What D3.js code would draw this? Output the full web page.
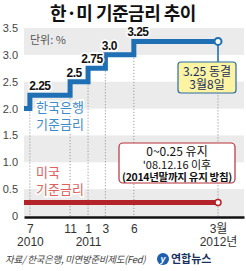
<!DOCTYPE html>
<html>
<head>
<meta charset="utf-8">
<script src="https://cdn.jsdelivr.net/npm/d3@7"></script>
<style>
    body { margin: 0; background: #fff; }
    svg { display: block; font-family: "Noto Sans CJK KR", "Noto Sans", sans-serif; }
</style>
</head>
<body>
<script>
// Data
const krDates = ['2010-06-20', '2010-07-09', '2010-11-16', '2011-01-13', '2011-03-10', '2011-06-10', '2012-03-08'];
const krRates = [2.0, 2.25, 2.5, 2.75, 3.0, 3.25, 3.25];
const krLabels = ['', '2.25', '2.5', '2.75', '3.0', '3.25', ''];

const usDates = ['2010-06-20', '2012-03-08'];
const usRates = [0.25, 0.25];

const yTicks = [0, 0.5, 1.0, 1.5, 2.0, 2.5, 3.0, 3.5];
const xTickDates = ['2010-07-09', '2010-11-16', '2011-01-13', '2011-03-10', '2011-06-10', '2012-03-08'];
const xMonthLabels = ['7', '11', '1', '3', '6', '3월'];
const xYearLabels = ['2010', '', '2011', '', '', '2012년'];

const parse = d3.timeParse('%Y-%m-%d');

const width = 246, height = 271;
const marginLeft = 24, marginRight = 2;

const svg = d3.select('body').append('svg')
    .attr('width', width)
    .attr('height', height);

const x = d3.scaleTime()
    .domain([parse('2010-06-20'), parse('2012-05-31')])
    .range([marginLeft, width - marginRight]);

const y = d3.scaleLinear()
    .domain([0, 3.5])
    .range([216, 28]);

// title
svg.append('text')
    .attr('x', width / 2).attr('y', 20)
    .attr('text-anchor', 'middle')
    .attr('font-size', 18).attr('font-weight', 'bold')
    .attr('letter-spacing', -0.5)
    .attr('fill', '#111')
    .text('한·미 기준금리 추이');

// gray bands
const bands = yTicks.slice(0, -1).filter((d, i) => i % 2 === 0);
svg.append('g')
    .selectAll('rect')
    .data(bands)
    .join('rect')
        .attr('x', marginLeft)
        .attr('width', width - marginRight - marginLeft)
        .attr('y', d => y(d + 0.5))
        .attr('height', d => y(d) - y(d + 0.5))
        .attr('fill', '#ebebeb');

// y labels
svg.append('g')
    .selectAll('text')
    .data(yTicks)
    .join('text')
        .attr('x', 18)
        .attr('y', d => y(d) + 4)
        .attr('text-anchor', 'end')
        .attr('font-size', 11)
        .attr('fill', '#444')
        .attr('font-family', 'Liberation Sans, sans-serif')
        .text(d => d === 0 ? '0' : d3.format('.1f')(d));

svg.append('text')
    .attr('x', 30).attr('y', 44)
    .attr('font-size', 11).attr('fill', '#555')
    .text('단위: %');

// dotted verticals
svg.append('g')
    .selectAll('line')
    .data(xTickDates)
    .join('line')
        .attr('x1', d => x(parse(d)))
        .attr('x2', d => x(parse(d)))
        .attr('y1', (d, i) => y(krRates[i]) + 3)
        .attr('y2', y(0))
        .attr('stroke', '#888')
        .attr('stroke-width', 1)
        .attr('stroke-dasharray', '1,2');

// series labels
const labelStyle = sel => sel
    .attr('font-size', 13)
    .attr('stroke', '#fff').attr('stroke-width', 3)
    .attr('paint-order', 'stroke');

svg.append('text').attr('x', 36).attr('y', 112).attr('fill', '#3d8cc9').call(labelStyle).text('한국은행');
svg.append('text').attr('x', 36).attr('y', 129).attr('fill', '#3d8cc9').call(labelStyle).text('기준금리');
svg.append('text').attr('x', 36).attr('y', 177).attr('fill', '#e06060').call(labelStyle).text('미국');
svg.append('text').attr('x', 36).attr('y', 194).attr('fill', '#e06060').call(labelStyle).text('기준금리');

// x axis
const xAxis = d3.axisBottom(x)
    .tickValues(xTickDates.map(parse))
    .tickSize(0)
    .tickPadding(7)
    .tickFormat((d, i) => xMonthLabels[i]);

const gx = svg.append('g')
    .attr('transform', `translate(0, ${y(0) + 1})`)
    .call(xAxis);
gx.select('.domain').attr('stroke', '#111').attr('stroke-width', 2.5);
gx.selectAll('text').attr('font-size', 12).attr('fill', '#333')
    .attr('font-family', 'Liberation Sans, "Noto Sans CJK KR", sans-serif');

const yearAxis = d3.axisBottom(x)
    .tickValues(xTickDates.map(parse))
    .tickSize(0)
    .tickPadding(20)
    .tickFormat((d, i) => xYearLabels[i]);

const gy = svg.append('g')
    .attr('transform', `translate(0, ${y(0) + 1})`)
    .call(yearAxis);
gy.select('.domain').remove();
gy.selectAll('text').attr('font-size', 12).attr('fill', '#333')
    .attr('font-family', 'Liberation Sans, "Noto Sans CJK KR", sans-serif');

// lines
const line = d3.line()
    .x(d => x(d.date))
    .y(d => y(d.rate))
    .curve(d3.curveStepAfter);

const kr = krDates.map((d, i) => ({ date: parse(d), rate: krRates[i], label: krLabels[i] }));
const us = usDates.map((d, i) => ({ date: parse(d), rate: usRates[i] }));

svg.append('path')
    .datum(us)
    .attr('d', line)
    .attr('fill', 'none')
    .attr('stroke', '#b5232a')
    .attr('stroke-width', 5);

svg.append('path')
    .datum(kr)
    .attr('d', line)
    .attr('fill', 'none')
    .attr('stroke', '#1e6fb3')
    .attr('stroke-width', 5);

// value labels
svg.append('g')
    .selectAll('text')
    .data(kr.filter(d => d.label))
    .join('text')
        .attr('x', (d, i) => x(d.date) + (i === 0 ? 10 : 4))
        .attr('y', d => y(d.rate) - 5)
        .attr('text-anchor', 'middle')
        .attr('font-size', 12)
        .attr('font-weight', 'bold')
        .attr('letter-spacing', -0.5)
        .attr('font-family', 'Liberation Sans, sans-serif')
        .attr('fill', '#111')
        .attr('stroke', '#fff').attr('stroke-width', 3)
        .attr('paint-order', 'stroke')
        .text(d => d.label);

// callouts
const lastKr = kr[kr.length - 1];
const lx = x(lastKr.date);

svg.append('line')
    .attr('x1', lx).attr('x2', lx)
    .attr('y1', y(lastKr.rate)).attr('y2', 62)
    .attr('stroke', '#1e6fb3').attr('stroke-width', 1.5);

svg.append('rect')
    .attr('x', lx - 40).attr('y', 62)
    .attr('width', 58).attr('height', 31)
    .attr('rx', 3)
    .attr('fill', '#fcf4a2')
    .attr('stroke', '#2b6ca3').attr('stroke-width', 1.2);

svg.append('text')
    .attr('x', lx - 11).attr('y', 76)
    .attr('text-anchor', 'middle')
    .attr('font-size', 12).attr('fill', '#1b2f5c')
    .text('3.25 동결');
svg.append('text')
    .attr('x', lx - 11).attr('y', 89)
    .attr('text-anchor', 'middle')
    .attr('font-size', 12).attr('fill', '#1b2f5c')
    .text('3월8일');

svg.append('rect')
    .attr('x', 119).attr('y', 143)
    .attr('width', 116).attr('height', 40)
    .attr('rx', 4)
    .attr('fill', '#fff')
    .attr('stroke', '#b5303a').attr('stroke-width', 1.2);

svg.append('text')
    .attr('x', 177).attr('y', 156)
    .attr('text-anchor', 'middle')
    .attr('font-size', 12).attr('fill', '#111')
    .text('0~0.25 유지');
svg.append('text')
    .attr('x', 177).attr('y', 169)
    .attr('text-anchor', 'middle')
    .attr('font-size', 11).attr('fill', '#111')
    .text('\'08.12.16 이후');
svg.append('text')
    .attr('x', 177).attr('y', 181)
    .attr('text-anchor', 'middle')
    .attr('font-size', 10.5).attr('font-weight', 'bold')
    .attr('letter-spacing', -0.3)
    .attr('fill', '#111')
    .text('(2014년말까지 유지 방침)');

// end markers
const lastUs = us[us.length - 1];
svg.append('circle')
    .attr('cx', x(lastKr.date)).attr('cy', y(lastKr.rate)).attr('r', 3.5)
    .attr('fill', '#fff').attr('stroke', '#1e6fb3').attr('stroke-width', 2);
svg.append('circle')
    .attr('cx', x(lastUs.date)).attr('cy', y(lastUs.rate)).attr('r', 3)
    .attr('fill', '#fff').attr('stroke', '#b5232a').attr('stroke-width', 1.5);

// footer
svg.append('text')
    .attr('x', 5).attr('y', 263)
    .attr('font-size', 9.5).attr('font-style', 'italic')
    .attr('letter-spacing', -0.3)
    .attr('fill', '#444')
    .text('자료/ 한국은행, 미연방준비제도(Fed)');

svg.append('circle')
    .attr('cx', 163).attr('cy', 259).attr('r', 6)
    .attr('fill', '#1d5fae');
svg.append('text')
    .attr('x', 163).attr('y', 262)
    .attr('text-anchor', 'middle')
    .attr('font-size', 9).attr('font-style', 'italic').attr('font-weight', 'bold')
    .attr('fill', '#fff')
    .attr('font-family', 'Liberation Sans, sans-serif')
    .text('y');
svg.append('text')
    .attr('x', 171).attr('y', 263)
    .attr('font-size', 11).attr('font-weight', 'bold')
    .attr('fill', '#1b2f5c')
    .text('연합뉴스');
</script>
</body>
</html>
